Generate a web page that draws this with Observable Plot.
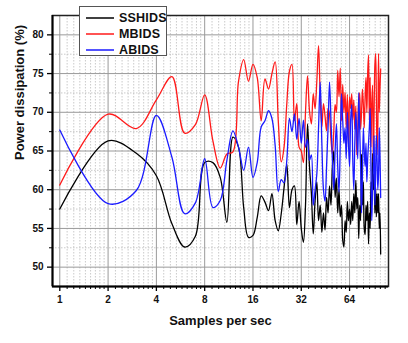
<!DOCTYPE html>
<html><head><meta charset="utf-8">
<script src="https://cdn.jsdelivr.net/npm/d3@7"></script>
<script src="https://cdn.jsdelivr.net/npm/@observablehq/plot@0.6"></script>
<style>
body{margin:0;background:#fff;font-family:"Liberation Sans",Arial,sans-serif;}
#wrap{position:relative;width:408px;height:343px;}
#legend{position:absolute;left:79px;top:6px;width:88px;height:50px;background:#fff;border:1px solid #555;box-sizing:border-box;}
#legend .row{position:absolute;left:6px;height:14px;display:flex;align-items:center;}
#legend .row span{font-weight:bold;font-size:12.5px;color:#111;margin-left:5px;letter-spacing:0.2px;}
</style></head><body><div id="wrap"><div id="legend"></div></div>
<script>
const samples = d3.range(1, 101);
const sshids = [57.5,66.3,64.7,61.8,55.6,52.6,54.0,63.5,63.5,61.6,
55.8,66.8,65.5,57.7,53.85,54.1,56.4,59.2,58.4,57.3,
59.5,56.0,54.7,56.9,60.3,63.3,57.7,60.0,60.5,55.5,58.5,
55,53.2,58,68.5,63,59.5,54.3,58.5,61,56,58,54.5,57,54.8,59,57,60.5,58,63,65,59,61.5,57,60,56.5,58,53.5,52.6,56,54.5,58.5,56,57.5,
55.5,58.5,56,59.5,57,61.2,57.5,59,53.7,58,56,64.6,58,61,55,54.2,58,56,58.5,53,57,55,61,58,64.7,60,62,57,60.3,56.5,59.5,57,59.5,55,57,51.7];
const mbids = [60.6,69.75,67.9,71.6,74.6,67.3,68.4,72.25,66.3,62.8,
64.6,64.9,74.0,76.8,74.0,76.2,74.5,68.9,74.3,73.0,
75.0,76.5,68.9,63.6,65.5,71.1,75.3,76.2,68.9,71.1,65.5,
65,63.5,70,74.7,70.2,68.5,72.4,70.5,74,78.6,72,68.1,71.1,69.5,67.6,70.5,69.7,66.5,64.6,67.5,71,70,75.4,72,75.7,68.9,73.6,70,72.6,68,72.3,65.5,72,
70.5,72.4,69,71.6,67.8,70.8,64.5,68,71.6,72.5,67.8,70,73,71,68,72,74.5,70,75,77.4,69,74.5,65.5,71,73.5,63.5,70,76,77.6,72,64.5,68,77.6,70,73,75.6];
const abids = [67.7,58.2,59.9,69.6,64.2,56.9,58.3,64.0,57.7,58.6,
63.8,67.6,65.5,62.5,65.5,61.6,63.5,68.1,68.9,70.2,
69.2,65.7,59.8,61.3,60.9,63.8,69.2,67.5,69.8,66.5,69.2,
66,69,65.5,66.5,63.8,64.5,58,60,62,68,73.9,66,60,58.5,63,68,73.9,69,64,60,65,68.5,63,59.7,66,72.4,69,66,68,64,70,66,63,
69,71,64,60,66,70,67,64,72.5,68,63,57,62,68,65,63,66,61,64,66,68,70.5,63,56,60,63,67,58,62,67,64,60,62,68,64.5,59];
const seriesNames = ["SSHIDS", "MBIDS", "ABIDS"];
const seriesColors = ["#000000", "#ff1a1a", "#1a1aff"];
const xTicks = [1, 2, 4, 8, 16, 32, 64];
const yTicks = [50, 55, 60, 65, 70, 75, 80];
const yMinor = [52.5, 57.5, 62.5, 67.5, 72.5, 77.5];
const xLabel = "Samples per sec";
const yLabel = "Power dissipation (%)";

const xMinor = [];
for (let n = 0; n <= 6; n++) for (let i = 1; i <= 8; i++) {
  const v = Math.pow(2, n) * (1 + i / 9);
  if (v < 111) xMinor.push(v);
}
const allSeries = [sshids, mbids, abids];
const data = [];
allSeries.forEach((vals, k) => vals.forEach((v, i) => data.push({x: samples[i], y: v, s: seriesNames[k]})));

const chart = Plot.plot({
  width: 408, height: 343,
  marginLeft: 52, marginRight: 20, marginTop: 15, marginBottom: 57,
  style: {fontFamily: "'Liberation Sans', Arial, sans-serif", fontSize: "10px", fontWeight: "bold", background: "#fff", color: "#111"},
  x: {type: "log", base: 2, domain: [0.9006, 111.9]},
  y: {domain: [47.5, 82.5]},
  color: {domain: seriesNames, range: seriesColors},
  marks: [
    Plot.ruleX(xMinor, {stroke: "#bdbdbd", strokeWidth: 0.8, strokeDasharray: "1.5,1.5"}),
    Plot.ruleY(yMinor, {stroke: "#bdbdbd", strokeWidth: 0.8, strokeDasharray: "1.5,1.5"}),
    Plot.ruleX(xTicks, {stroke: "#9a9a9a", strokeWidth: 1}),
    Plot.ruleY(yTicks, {stroke: "#9a9a9a", strokeWidth: 1}),
    Plot.line(data, {x: "x", y: "y", z: "s", stroke: "s", strokeWidth: 1.3, curve: "catmull-rom"}),
    Plot.frame({stroke: "#222", strokeWidth: 1.5}),
    Plot.axisX({ticks: xMinor, tickSize: 3, tickFormat: () => "", label: null, stroke: "#000"}),
    Plot.axisY({ticks: yMinor, tickSize: 3, tickFormat: () => "", label: null, stroke: "#000"}),
    Plot.axisX({ticks: xTicks, tickSize: 5, tickPadding: 4, tickFormat: d => String(d), label: null, stroke: "#000", strokeWidth: 1.3}),
    Plot.axisY({ticks: yTicks, tickSize: 5, tickPadding: 4, tickFormat: d => String(d), label: null, stroke: "#000", strokeWidth: 1.3}),
    Plot.ruleX([0.9006], {stroke: "#000", strokeWidth: 2}),
    Plot.ruleY([47.5], {stroke: "#000", strokeWidth: 2}),
    Plot.text([xLabel], {frameAnchor: "bottom", dy: 34.5, fontSize: 13, fontWeight: "bold", fill: "#111", lineAnchor: "middle"}),
    Plot.text([yLabel], {frameAnchor: "left", dx: -33, dy: 9, rotate: -90, fontSize: 13, fontWeight: "bold", fill: "#111", lineAnchor: "middle"})
  ]
});
const wrap = document.getElementById("wrap");
wrap.insertBefore(chart, wrap.firstChild);

const legend = document.getElementById("legend");
seriesNames.forEach((name, i) => {
  const row = document.createElement("div");
  row.className = "row";
  row.style.top = (3.7 + i * 16.3) + "px";
  row.innerHTML = `<svg width="28" height="4"><line x1="0" x2="28" y1="2" y2="2" stroke="${seriesColors[i]}" stroke-width="1.5"/></svg><span>${name}</span>`;
  legend.appendChild(row);
});
</script>
</body></html>
